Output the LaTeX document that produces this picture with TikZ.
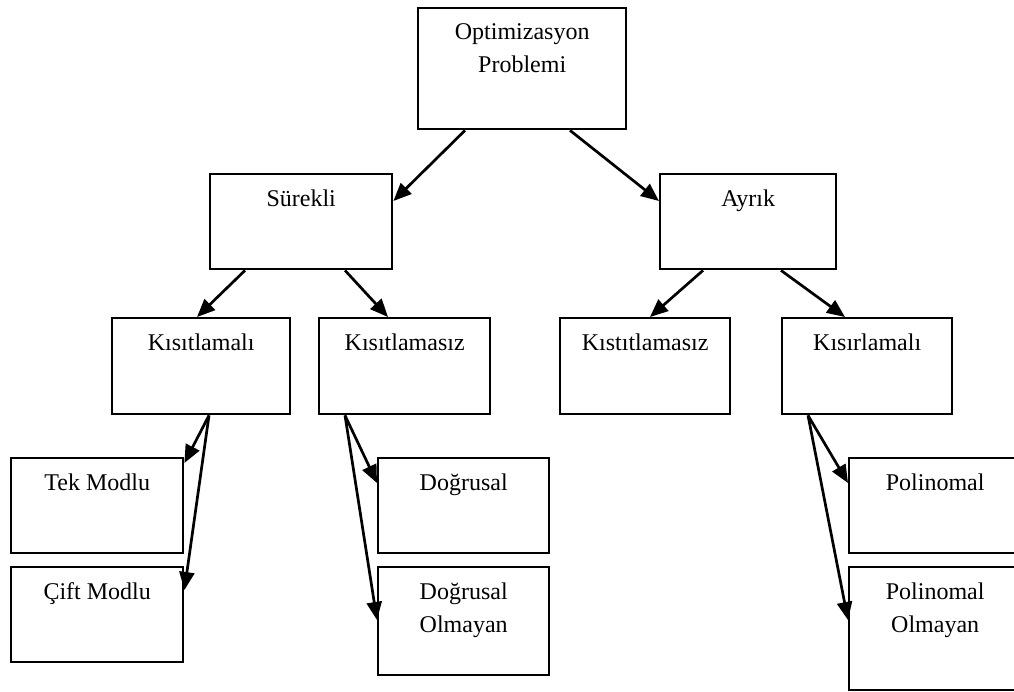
\documentclass[tikz,border=0pt]{standalone}
\usepackage{fontspec}
\setmainfont{Liberation Serif}
\usetikzlibrary{arrows.meta}

\begin{document}
\begin{tikzpicture}[x=1pt,y=-1pt,
        kutu/.style={draw,line width=2.4pt,inner sep=0pt,anchor=north west},
        yazi/.style={anchor=north,inner sep=0pt,align=center,font=\fontsize{24}{33}\selectfont},
        ok/.style={->,line width=2.7pt},
        >={Triangle[length=18pt,width=15pt]}]

        \useasboundingbox (0,0) rectangle (1014,691);

        %boxes
        \node[kutu,minimum width=208,minimum height=121] (opt) at (417,7) {};
        \node[kutu,minimum width=182,minimum height=95] (sur) at (209,173) {};
        \node[kutu,minimum width=176,minimum height=95] (ayr) at (659,173) {};

        \node[kutu,minimum width=178,minimum height=96] (k1) at (111,317) {};
        \node[kutu,minimum width=171,minimum height=96] (k2) at (318,317) {};
        \node[kutu,minimum width=170,minimum height=96] (k3) at (559,317) {};
        \node[kutu,minimum width=170,minimum height=96] (k4) at (781,317) {};

        \node[kutu,minimum width=172,minimum height=95] (tek) at (10,457) {};
        \node[kutu,minimum width=172,minimum height=95] (cift) at (10,566) {};
        \node[kutu,minimum width=171,minimum height=95] (d1) at (377,457) {};
        \node[kutu,minimum width=171,minimum height=108] (d2) at (377,566) {};
        \node[kutu,minimum width=172,minimum height=95] (p1) at (848,457) {};
        \node[kutu,minimum width=172,minimum height=123] (p2) at (848,566) {};

        %labels
        \node[yazi] (optT) at ([yshift=-16.6pt]opt.north) {Optimizasyon\\Problemi};
        \node[yazi] (surT) at ([yshift=-16.6pt]sur.north) {Sürekli};
        \node[yazi] (ayrT) at ([yshift=-16.6pt]ayr.north) {Ayrık};
        \node[yazi] (k1T) at ([yshift=-16.6pt]k1.north) {Kısıtlamalı};
        \node[yazi] (k2T) at ([yshift=-16.6pt]k2.north) {Kısıtlamasız};
        \node[yazi] (k3T) at ([yshift=-16.6pt]k3.north) {Kıstıtlamasız};
        \node[yazi] (k4T) at ([yshift=-16.6pt]k4.north) {Kısırlamalı};
        \node[yazi] (tekT) at ([yshift=-16.6pt]tek.north) {Tek Modlu};
        \node[yazi] (ciftT) at ([yshift=-16.6pt]cift.north) {Çift Modlu};
        \node[yazi] (d1T) at ([yshift=-16.6pt]d1.north) {Doğrusal};
        \node[yazi] (d2T) at ([yshift=-16.6pt]d2.north) {Doğrusal\\Olmayan};
        \node[yazi] (p1T) at ([yshift=-16.6pt]p1.north) {Polinomal};
        \node[yazi] (p2T) at ([yshift=-16.6pt]p2.north) {Polinomal\\Olmayan};

        %first level
        \draw [ok] ([xshift=48pt]opt.south west) -- ([yshift=-28pt]sur.north east);
        \draw [ok] ([xshift=153pt]opt.south west) -- ([yshift=-28pt]ayr.north west);

        %second level
        \draw [ok] ([xshift=36pt]sur.south west) -- ([xshift=86pt]k1.north west);
        \draw [ok] ([xshift=136pt]sur.south west) -- ([xshift=70pt]k2.north west);
        \draw [ok] ([xshift=44pt]ayr.south west) -- ([xshift=91pt]k3.north west);
        \draw [ok] ([xshift=122pt]ayr.south west) -- ([xshift=64pt]k4.north west);

        %third level
        \draw [ok] ([xshift=98pt]k1.south west) -- ([yshift=-6pt]tek.north east);
        \draw [ok] ([xshift=98pt]k1.south west) -- ([yshift=-24pt]cift.north east);
        \draw [ok] ([xshift=27pt]k2.south west) -- ([yshift=-26pt]d1.north west);
        \draw [ok] ([xshift=27pt]k2.south west) -- ([yshift=-54pt]d2.north west);
        \draw [ok] ([xshift=27pt]k4.south west) -- ([yshift=-26pt]p1.north west);
        \draw [ok] ([xshift=27pt]k4.south west) -- ([yshift=-54pt]p2.north west);
\end{tikzpicture}
\end{document}
